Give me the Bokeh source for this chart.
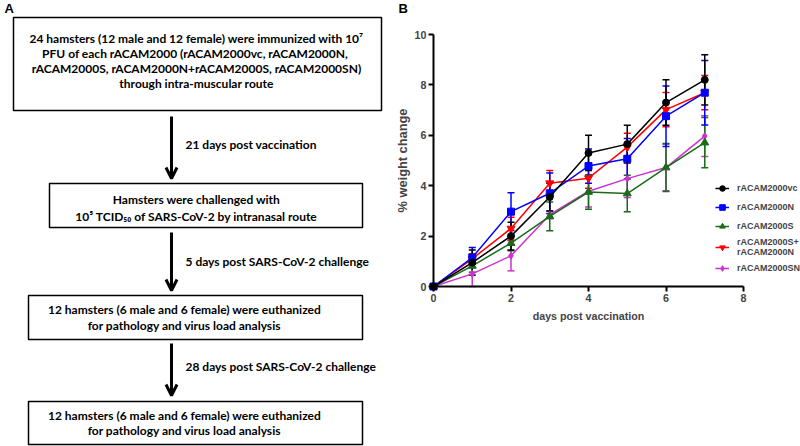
from bokeh.plotting import figure
from bokeh.models import (Range1d, ColumnDataSource, Whisker, TeeHead, Legend,
                          LegendItem, Arrow, OpenHead, FixedTicker, LinearAxis)
from bokeh.core.properties import value
from bokeh.embed import file_html
from bokeh.resources import INLINE

# ---------------- data (panel B) ----------------
days = [0, 1, 2, 3, 4, 5, 6, 7]
series_labels = ["rACAM2000vc", "rACAM2000N", "rACAM2000S",
                 "rACAM2000S+\nrACAM2000N", "rACAM2000SN"]
vc_mean = [0, 0.95, 2.0, 3.55, 5.3, 5.65, 7.3, 8.2]
vc_err = [0, 0.5, 0.55, 0.55, 0.7, 0.75, 0.9, 1.0]
n_mean = [0, 1.15, 2.97, 3.7, 4.78, 5.07, 6.76, 7.69]
n_err = [0, 0.4, 0.75, 0.8, 0.68, 0.8, 1.2, 1.28]
s_mean = [0, 0.82, 1.72, 2.78, 3.75, 3.69, 4.72, 5.71]
s_err = [0, 0.25, 0.3, 0.57, 0.68, 0.72, 0.95, 1.0]
sn_plus_mean = [0, 1.1, 2.3, 4.1, 4.3, 5.53, 7.02, 7.69]
sn_plus_err = [0, 0.2, 0.45, 0.5, 0.4, 0.55, 0.68, 0.68]
sn_mean = [0, 0.5, 1.22, 2.85, 3.78, 4.28, 4.72, 5.97]
sn_err = [0, 0.5, 0.6, 0.15, 0.63, 0.75, 0.92, 0.81]
x_ticks = [0, 2, 4, 6, 8]
y_ticks = [0, 2, 4, 6, 8, 10]
x_label = "days post vaccination"
y_label = "% weight change"

# ---------------- texts (panel A) ----------------
box1_lines = ["24 hamsters (12 male and 12 female) were immunized with 10\u2077",
              "PFU of  each rACAM2000 (rACAM2000vc, rACAM2000N,",
              "rACAM2000S, rACAM2000N+rACAM2000S, rACAM2000SN)",
              "through intra-muscular route"]
box2_lines = ["Hamsters were challenged with",
              "10\u2075 TCID\u2085\u2080 of SARS-CoV-2 by intranasal route"]
box3_lines = ["12 hamsters (6 male and 6 female) were euthanized",
              "for pathology and virus load analysis"]
box4_lines = box3_lines
step_labels = ["21 days post vaccination",
               "5 days post SARS-CoV-2 challenge",
               "28 days post SARS-CoV-2 challenge"]

# ---------------- canvas ----------------
W, H = 800, 446
REF_W, REF_H = 800, 446          # layout coordinates of the whole figure
FLOW_FONT = value("Lato")
FLOW_SIZE = "12px"
AX_FONT = "Liberation Sans"

p = figure(width=W, height=H, x_range=Range1d(0, REF_W), y_range=Range1d(REF_H, 0),
           x_axis_type=None, y_axis_type=None, output_backend="svg", toolbar_location=None,
           min_border=0, outline_line_color=None)
p.grid.visible = False

# panel B ranges: x=0 sits at layout x 433 (38.75 per day), y=0 at layout y 286 (25.2 per %)
X0, XU, Y0, YU = 433.0, 38.75, 286.0, 25.2
p.extra_x_ranges = {"bx": Range1d(-X0 / XU, (REF_W - X0) / XU)}
p.extra_y_ranges = {"by": Range1d((Y0 - REF_H) / YU, Y0 / YU)}

# ---------------- panel A (flowchart) ----------------
p.quad(left=[13, 49, 28, 28], right=[381, 362, 362, 362], top=[17, 183, 295, 401],
       bottom=[110, 227, 339, 444], fill_color=None, line_color="black", line_width=1.5)

tx, ty, tt = [], [], []
for lines, cx, ys in [(box1_lines, 196, [38, 53, 68, 83]),
                      (box2_lines, 196, [199, 216]),
                      (box3_lines, 184, [309, 325]),
                      (box4_lines, 184, [415, 430])]:
    for ln, yy in zip(lines, ys):
        tx.append(cx); ty.append(yy); tt.append(ln)
p.text(x=tx, y=ty, text=tt, text_align="center", text_baseline="middle",
       text_font=FLOW_FONT, text_font_style="bold", text_font_size=FLOW_SIZE, text_color="black")

p.text(x=[185, 185, 185], y=[144, 261, 366], text=step_labels, text_align="left",
       text_baseline="middle", text_font=FLOW_FONT, text_font_style="bold",
       text_font_size=FLOW_SIZE, text_color="black")

for y0, y1 in [(116, 178), (232, 290), (343, 395)]:
    p.add_layout(Arrow(x_start=171, y_start=y0, x_end=171, y_end=y1, line_width=3,
                       line_color="black",
                       end=OpenHead(size=11, line_width=3, line_color="black")))

p.text(x=[4, 398], y=[8, 8], text=["A", "B"], text_align="left", text_baseline="middle",
       text_font=value(AX_FONT), text_font_style="bold", text_font_size="13px")

# ---------------- panel B (chart) ----------------
def style_axis(ax):
    ax.axis_line_width = 2
    ax.major_tick_line_width = 2
    ax.major_tick_in = 0
    ax.major_tick_out = 5
    ax.minor_tick_line_color = None
    ax.major_label_text_font = AX_FONT
    ax.major_label_text_font_style = "bold"
    ax.major_label_text_font_size = "10.7px"
    ax.major_label_standoff = 2
    ax.axis_label_text_font = AX_FONT
    ax.axis_label_text_font_style = "bold"

yax = LinearAxis(x_range_name="bx", y_range_name="by", fixed_location=0, bounds=(0, 10),
                 ticker=FixedTicker(ticks=y_ticks), axis_label=y_label)
style_axis(yax)
yax.axis_label_text_font_size = "12.8px"
yax.axis_label_standoff = 2
p.add_layout(yax, "left")

xax = LinearAxis(x_range_name="bx", y_range_name="by", fixed_location=0, bounds=(0, 8),
                 ticker=FixedTicker(ticks=x_ticks), axis_label=x_label)
style_axis(xax)
xax.axis_label_text_font_size = "10.7px"
xax.axis_label_standoff = 5
p.add_layout(xax, "below")

series = [
    (series_labels[0], vc_mean, vc_err, "black", "circle", 7),
    (series_labels[1], n_mean, n_err, "#0000ff", "square", 7),
    (series_labels[2], s_mean, s_err, "#1a6b1a", "triangle", 8),
    (series_labels[3], sn_plus_mean, sn_plus_err, "#ff0000", "inverted_triangle", 8),
    (series_labels[4], sn_mean, sn_err, "#cc33cc", "diamond", 7),
]

items = {}
for name, mean, err, col, mk, sz in reversed(series):
    idx = [i for i in range(len(days)) if err[i] > 0]
    wsrc = ColumnDataSource(dict(x=[days[i] for i in idx],
                                 upper=[mean[i] + err[i] for i in idx],
                                 lower=[mean[i] - err[i] for i in idx]))
    p.add_layout(Whisker(source=wsrc, base="x", upper="upper", lower="lower",
                         x_range_name="bx", y_range_name="by",
                         line_color=col, line_width=1.5,
                         upper_head=TeeHead(size=7, line_color=col, line_width=1.5),
                         lower_head=TeeHead(size=7, line_color=col, line_width=1.5)))
    src = ColumnDataSource(dict(x=days, y=mean))
    lr = p.line("x", "y", source=src, line_color=col, line_width=1.5,
                x_range_name="bx", y_range_name="by")
    sr = p.scatter("x", "y", source=src, marker=mk, size=sz, fill_color=col, line_color=col,
                   x_range_name="bx", y_range_name="by")
    items[name] = [lr, sr]

legend = Legend(items=[LegendItem(label=s[0], renderers=items[s[0]]) for s in series],
                location=(715, 170), padding=0, margin=0, spacing=3,
                glyph_width=14, glyph_height=16, label_height=16, label_standoff=8,
                label_text_font=AX_FONT, label_text_font_style="bold",
                label_text_font_size="9px", background_fill_alpha=0, border_line_color=None)
p.add_layout(legend)

open("out.html", "w").write(file_html(p, INLINE))
